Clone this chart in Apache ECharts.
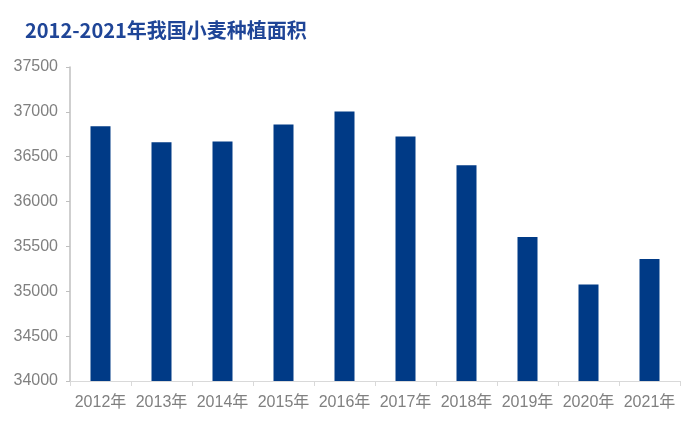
<!DOCTYPE html>
<html>
<head>
<meta charset="utf-8">
<script src="https://cdn.jsdelivr.net/npm/echarts@6/dist/echarts.min.js"></script>
<style>html,body{margin:0;padding:0;background:#fff;}#c{width:700px;height:427px;}</style>
</head>
<body>
<div id="c"></div>
<script>
const categories = ['2012年','2013年','2014年','2015年','2016年','2017年','2018年','2019年','2020年','2021年'];
const areaValues = [36840, 36660, 36670, 36860, 37005, 36725, 36405, 35605, 35075, 35360];
const yTicks = [34000, 34500, 35000, 35500, 36000, 36500, 37000, 37500];
const titleText = '2012-2021年我国小麦种植面积';

const chart = echarts.init(document.getElementById('c'));
chart.setOption({
  animation: false,
  title: {
    text: titleText,
    left: 20,
    top: 15,
    textStyle: {
      fontFamily: 'Noto Sans CJK SC',
      fontWeight: 'bold',
      fontSize: 20,
      color: '#1F4597'
    }
  },
  grid: { left: 70, right: 20, top: 67, bottom: 46 },
  xAxis: {
    type: 'category',
    data: categories,
    axisLine: { lineStyle: { color: '#d9d9d9', width: 1 } },
    axisTick: { show: true, length: 5, lineStyle: { color: '#d9d9d9' } },
    axisLabel: {
      interval: 0,
      color: '#808080',
      fontSize: 16,
      margin: 14,
      fontFamily: 'Liberation Sans, Noto Sans CJK SC'
    }
  },
  yAxis: {
    type: 'value',
    min: yTicks[0],
    max: yTicks[yTicks.length - 1],
    interval: 500,
    axisLine: { show: true, lineStyle: { color: '#bfbfbf', width: 1.5 } },
    axisTick: { show: true, length: 4, lineStyle: { color: '#bfbfbf' } },
    splitLine: { show: false },
    axisLabel: {
      color: '#808080',
      fontSize: 16,
      margin: 12,
      fontFamily: 'Liberation Sans, Noto Sans',
      formatter: function (v) { return String(v); }
    }
  },
  series: [{
    type: 'bar',
    data: areaValues,
    barWidth: 20,
    itemStyle: { color: '#003A86' }
  }]
});
</script>
</body>
</html>
